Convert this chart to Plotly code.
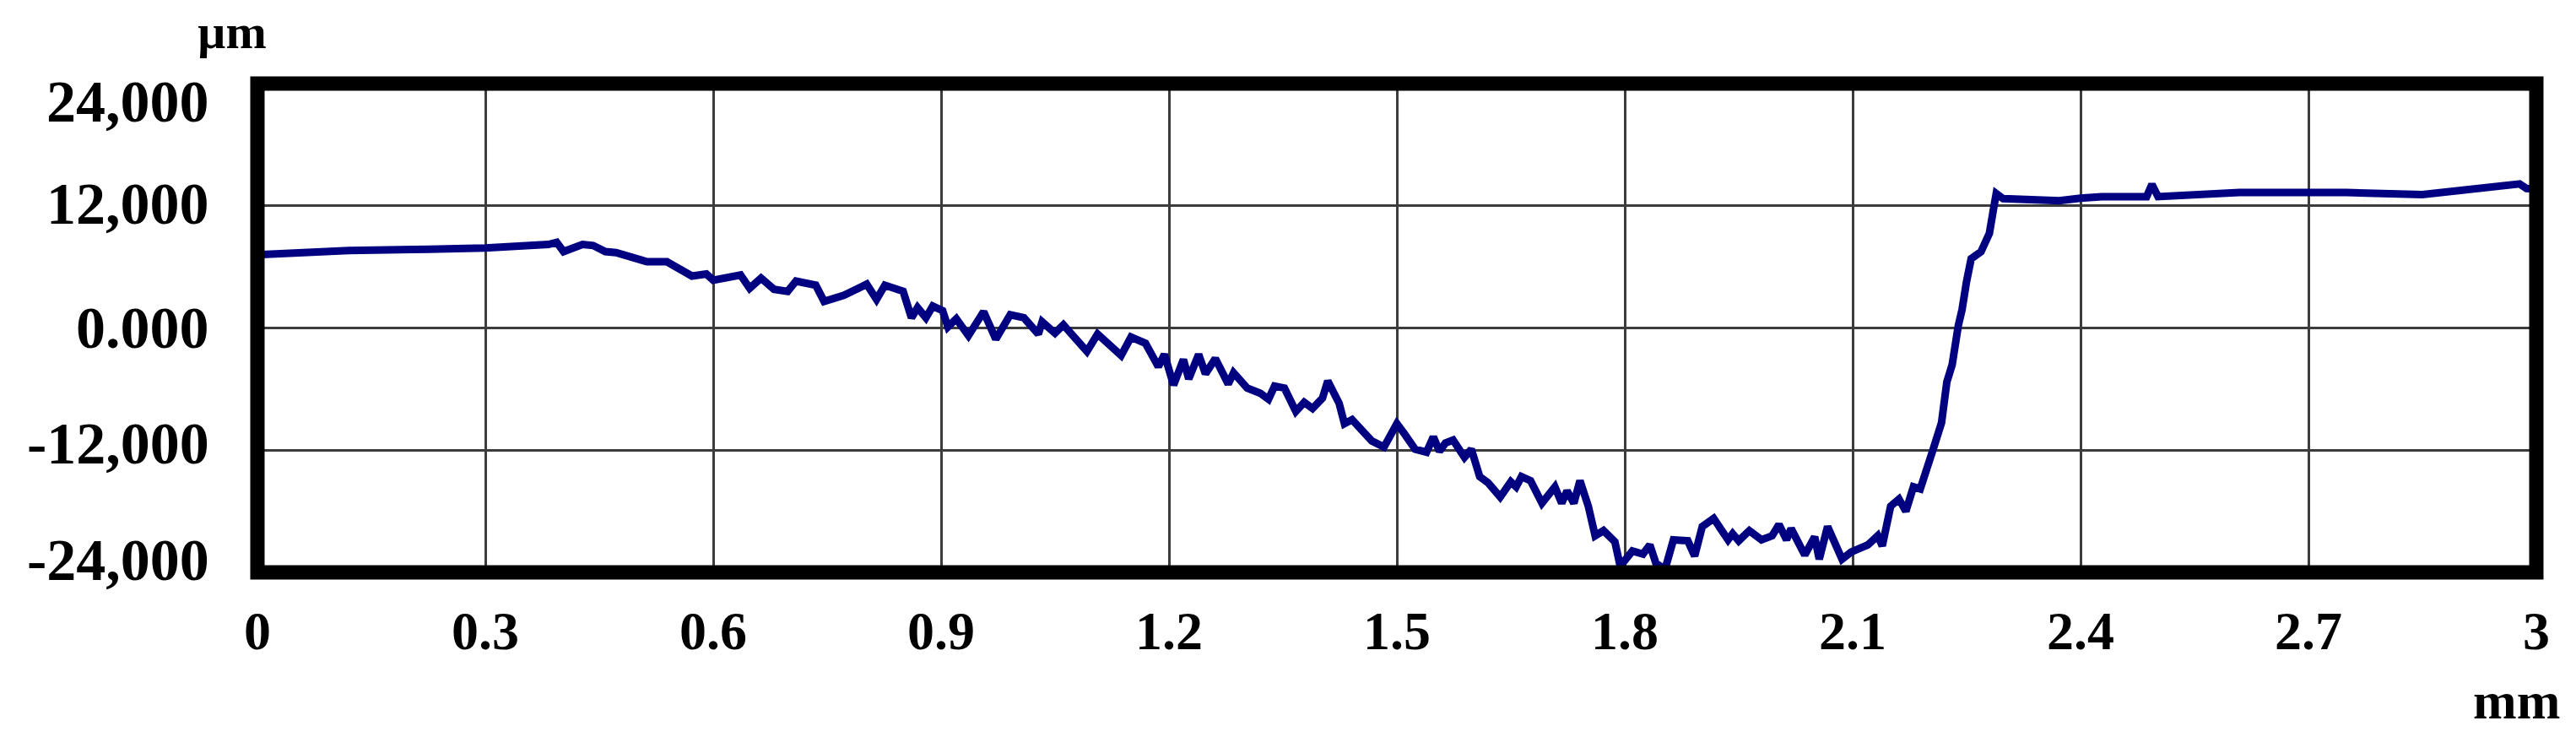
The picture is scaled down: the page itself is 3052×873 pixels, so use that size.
import plotly.graph_objects as go

# ---- data ----
x_mm = [0.000, 0.047, 0.120, 0.205, 0.300, 0.383, 0.394, 0.403, 0.428, 0.442, 0.458, 0.472, 0.513, 0.539, 0.561,
        0.572, 0.591, 0.600, 0.636, 0.648, 0.663, 0.680, 0.698, 0.709, 0.735, 0.746, 0.772, 0.802, 0.815, 0.826,
        0.850, 0.861, 0.869, 0.880, 0.889, 0.902, 0.909, 0.920, 0.936, 0.956, 0.972, 0.991, 1.009, 1.028, 1.033,
        1.050, 1.061, 1.076, 1.092, 1.106,
        1.120, 1.137, 1.150, 1.169, 1.186, 1.194, 1.206, 1.219, 1.226, 1.239, 1.248, 1.261, 1.278, 1.285, 1.303,
        1.320, 1.331, 1.339, 1.352, 1.367, 1.378, 1.389, 1.402, 1.409, 1.424, 1.431, 1.441, 1.459, 1.467, 1.483,
        1.500, 1.509, 1.524, 1.539, 1.548, 1.556, 1.564, 1.574, 1.589, 1.598, 1.609, 1.620, 1.636, 1.650, 1.657,
        1.664,
        1.676, 1.691, 1.708, 1.717, 1.724, 1.733, 1.741, 1.752, 1.761, 1.772, 1.787, 1.794, 1.810, 1.824, 1.833,
        1.841, 1.853, 1.864, 1.883, 1.892, 1.902, 1.917, 1.936, 1.942, 1.950, 1.964, 1.980, 1.994, 2.003, 2.013,
        2.019, 2.037, 2.050, 2.056, 2.067, 2.086, 2.098, 2.120, 2.133, 2.139, 2.150, 2.161, 2.170, 2.180, 2.189,
        2.206, 2.217, 2.224, 2.231, 2.239, 2.244, 2.250, 2.256, 2.269, 2.280, 2.285, 2.289, 2.298, 2.372, 2.400,
        2.428, 2.487, 2.494, 2.502, 2.609, 2.698, 2.750, 2.850, 2.917, 2.978, 2.987, 3.000]

profile_um = [7.2, 7.37, 7.6, 7.7, 7.86, 8.2, 8.4, 7.5, 8.2, 8.1, 7.5, 7.4, 6.5, 6.5, 5.6,
              5.1, 5.3, 4.7, 5.2, 3.9, 4.9, 3.8, 3.6, 4.6, 4.2, 2.6, 3.2, 4.3, 2.8, 4.2,
              3.6, 1.0, 2.0, 1.0, 2.15, 1.7, 0.1, 0.9, -0.75, 1.6, -1.1, 1.3, 1.0, -0.6, 0.6,
              -0.5, 0.3, -1.1, -2.3, -0.6,
              -1.6, -2.7, -0.9, -1.5, -3.8, -2.6, -5.6, -3.1, -5.0, -2.6, -4.5, -3.0, -5.5, -4.4, -5.9,
              -6.4, -7.0, -5.7, -5.9, -8.2, -7.3, -7.9, -6.9, -5.2, -7.4, -9.4, -9.0, -10.3, -11.1, -11.7,
              -9.4, -10.3, -11.9, -12.2, -10.7, -12.1, -11.3, -11.0, -12.7, -11.9, -14.6, -15.2, -16.6, -15.1, -15.6,
              -14.6,
              -15.0, -17.2, -15.6, -17.2, -16.0, -17.2, -15.0, -17.5, -20.4, -19.9, -21.0, -23.4, -21.9, -22.2, -21.3,
              -23.1, -23.7, -20.8, -20.9, -22.4, -19.5, -18.7, -20.8, -20.2, -20.9, -19.9, -20.8, -20.4, -19.3, -20.8,
              -19.7, -22.3, -20.5, -22.7, -19.5, -22.7, -22.0, -21.3, -20.4, -21.4, -17.5, -16.8, -18.0, -15.6, -15.8,
              -11.9, -9.3, -5.3, -3.6, 0.2, 1.8, 4.6, 6.8, 7.5, 9.3, 11.5, 13.2, 12.7, 12.5, 12.75,
              12.9, 12.9, 14.1, 12.9, 13.3, 13.3, 13.3, 13.1, 13.6, 14.15, 13.7, 13.65]

x_ticks = [0, 0.3, 0.6, 0.9, 1.2, 1.5, 1.8, 2.1, 2.4, 2.7, 3]
x_tick_labels = ["0", "0.3", "0.6", "0.9", "1.2", "1.5", "1.8", "2.1", "2.4", "2.7", "3"]
y_ticks = [24, 12, 0, -12, -24]
y_tick_labels = ["24,000", "12,000", "0.000", "-12,000", "-24,000"]
y_label_shift = [-21, 2, 0, 8, 15]

x_unit = "mm"
y_unit = "µm"

FONT = "Liberation Serif, Times New Roman, serif"

fig = go.Figure()
fig.add_trace(go.Scatter(
    x=x_mm, y=profile_um, mode="lines",
    line=dict(color="#000080", width=9),
    showlegend=False, hoverinfo="skip",
))

fig.update_layout(
    width=3036, height=857,
    margin=dict(l=297, r=39, t=91, b=187, pad=0),
    paper_bgcolor="white", plot_bgcolor="white",
    xaxis=dict(
        range=[0, 3], tickvals=x_ticks, ticktext=x_tick_labels,
        showgrid=True, gridcolor="#3c3c3c", gridwidth=2.5, zeroline=False,
        showline=False, ticks="outside", ticklen=13, tickcolor="rgba(0,0,0,0)",
        tickfont=dict(family=FONT, size=64, color="black", weight="bold"),
    ),
    yaxis=dict(
        range=[-24, 24], tickvals=y_ticks, showticklabels=False,
        showgrid=True, gridcolor="#3c3c3c", gridwidth=2.5, zeroline=False,
        showline=False, ticks="",
    ),
)

# plot frame
fig.add_shape(type="rect", xref="paper", yref="paper", x0=0, x1=1, y0=0, y1=1,
              line=dict(color="black", width=17), layer="above")

# y tick labels
for v, t, s in zip(y_ticks, y_tick_labels, y_label_shift):
    fig.add_annotation(x=0, xref="paper", y=v, yref="y", text=t, showarrow=False,
                       xanchor="right", yanchor="middle", xshift=-55, yshift=s,
                       font=dict(family=FONT, size=70, color="black", weight="bold"))

# unit labels
fig.add_annotation(x=0, xref="paper", y=1, yref="paper", text=y_unit, showarrow=False,
                   xanchor="center", yanchor="middle", xshift=-30, yshift=62,
                   font=dict(family=FONT, size=58, color="black", weight="bold"))
fig.add_annotation(x=1, xref="paper", y=0, yref="paper", text=x_unit, showarrow=False,
                   xanchor="center", yanchor="middle", xshift=-24, yshift=-152,
                   font=dict(family=FONT, size=62, color="black", weight="bold"))

fig.write_html("out.html", config={"responsive": False, "displayModeBar": False})
